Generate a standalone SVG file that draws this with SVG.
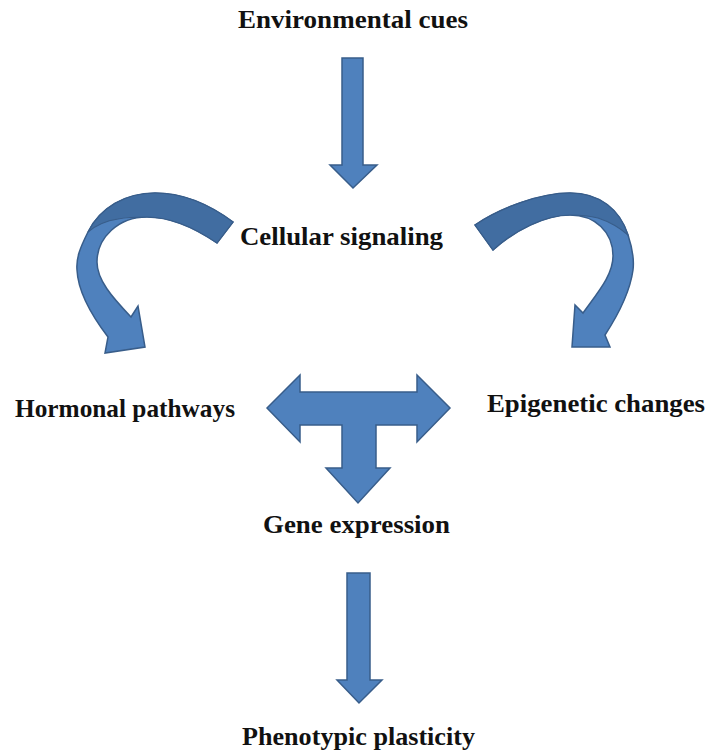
<svg xmlns="http://www.w3.org/2000/svg" width="710" height="753" viewBox="0 0 710 753">
<style>
  .lbl { font-family: "Liberation Serif", "Times New Roman", serif; font-weight: bold; font-size: 26px; fill: #111111; }
  .arr { fill: #4F81BD; stroke: #385D8A; stroke-width: 1.5; stroke-linejoin: miter; }
  .back { fill: #416DA1; stroke: #385D8A; stroke-width: 1.2; }
</style>
<rect width="710" height="753" fill="#ffffff"/>
<g id="connectors">
  <path class="arr" d="M342,58 L363,58 L363,165 L377,165 L353,188 L330,165 L342,165 Z"/>
  <g id="curved-left">
    <path class="arr" d="M233,222 C210,205 185,193 155,193 C125,193 100,208 88,232 C80,248 76,258 77,270 C78,292 92,316 108,337 L105,353 L145,347 L138,306 L131,317 C112,297 97,280 97,262 C97,238 118,217 147,217 C172,217 195,228 217,243 Z"/>
    <path class="back" d="M233,222 C210,205 185,193 155,193 C125,193 100,208 88,232 C95,226 105,221 118,219 C128,217 137,217 147,217 C172,217 195,228 217,243 Z"/>
  </g>
  <g id="curved-right">
    <path class="arr" d="M475,225 C500,208 540,193 570,193 C600,193 620,210 628,235 C633,250 634,262 633,270 C630,292 620,312 605,335 L610,347 L572,347 L575,305 L583,313 C598,292 613,275 613,256 C613,232 595,215 570,215 C545,215 515,230 493,250 Z"/>
    <path class="back" d="M475,225 C500,208 540,193 570,193 C600,193 620,210 628,235 C620,228 610,222 598,218 C590,216 580,215 570,215 C545,215 515,230 493,250 Z"/>
  </g>
  <path class="arr" d="M267,408 L300,375 L300,392 L417,392 L417,375 L450,408 L417,442 L417,425 L376,425 L376,468 L390,468 L358,503 L326,468 L342,468 L342,425 L300,425 L300,442 Z"/>
  <path class="arr" d="M347,573 L370,573 L370,680 L382,680 L359,703 L337,680 L347,680 Z"/>
</g>
<g id="node-environmental-cues">
  <text class="lbl" x="238" y="28" textLength="230" lengthAdjust="spacingAndGlyphs">Environmental cues</text>
</g>
<g id="node-cellular-signaling">
  <text class="lbl" x="240" y="245" textLength="203" lengthAdjust="spacingAndGlyphs">Cellular signaling</text>
</g>
<g id="node-hormonal-pathways">
  <text class="lbl" x="15" y="417" textLength="220" lengthAdjust="spacingAndGlyphs">Hormonal pathways</text>
</g>
<g id="node-epigenetic-changes">
  <text class="lbl" x="487" y="412" textLength="218" lengthAdjust="spacingAndGlyphs">Epigenetic changes</text>
</g>
<g id="node-gene-expression">
  <text class="lbl" x="263" y="533" textLength="187" lengthAdjust="spacingAndGlyphs">Gene expression</text>
</g>
<g id="node-phenotypic-plasticity">
  <text class="lbl" x="242" y="745" textLength="233" lengthAdjust="spacingAndGlyphs">Phenotypic plasticity</text>
</g>
</svg>
